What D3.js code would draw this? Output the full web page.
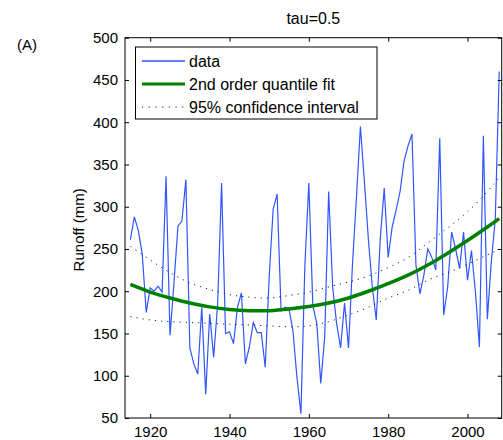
<!DOCTYPE html>
<html>
<head>
<meta charset="utf-8">
<script src="https://cdn.jsdelivr.net/npm/d3@7"></script>
<style>
  html, body { margin: 0; padding: 0; background: #fff; }
  svg text { font-family: "Liberation Sans", Arial, Helvetica, sans-serif; fill: #000; }
</style>
</head>
<body>
<svg id="chart" width="503" height="440"></svg>
<script>
// ---------------- data ----------------
const years = d3.range(1915, 2009);
const runoff = [
  261, 288, 272, 244, 175, 204, 200, 206, 199, 336,   // 1915-1924
  148, 210, 277, 283, 332, 133, 114, 102, 181, 78,    // 1925-1934
  173, 122, 184, 328, 150, 152, 138, 181, 198, 114,   // 1935-1944
  134, 163, 151, 151, 110, 217, 297, 315, 177, 181,   // 1945-1954
  179, 153, 98, 55, 231, 328, 183, 162, 91, 146,      // 1955-1964
  318, 205, 162, 133, 186, 133, 232, 311, 395, 330,   // 1965-1974
  262, 205, 166, 262, 322, 240, 276, 296, 318, 354,   // 1975-1984
  372, 386, 231, 197, 219, 250, 240, 225, 381, 172,   // 1985-1994
  205, 270, 250, 227, 270, 213, 248, 199, 134, 384,   // 1995-2004
  167, 235, 285, 460                                  // 2005-2008
];

const fitYears = [1915, 1920, 1925, 1930, 1935, 1940, 1945, 1950, 1955, 1960,
                  1965, 1970, 1975, 1980, 1985, 1990, 1995, 2000, 2005, 2008];
const fitValues = [208, 199, 192, 186, 181.5, 178.5, 177, 177, 179, 182,
                   186, 192, 200, 209, 219, 231, 245, 260, 276, 286];
const ciUpper = [253, 237, 222, 210, 202, 196, 193, 192, 195, 199,
                 205, 211, 218, 228, 240, 257, 275, 294, 318, 335];
const ciLower = [170, 166, 164, 163, 162, 161, 160, 159, 158, 159,
                 164, 172, 181, 192, 201, 213, 222, 232, 243, 249];

const xTicks = [1920, 1940, 1960, 1980, 2000];
const yTicks = [50, 100, 150, 200, 250, 300, 350, 400, 450, 500];

const titleText = "tau=0.5";
const panelLabel = "(A)";
const yLabel = "Runoff (mm)";
const legendLabels = ["data", "2nd order quantile fit", "95% confidence interval"];

// ---------------- layout ----------------
const svg = d3.select("#chart");
const L = 125, R = 501.7, T = 37.7, B = 418;

const x = d3.scaleLinear().domain([1913.65, 2008.62]).range([L, R]);
const y = d3.scaleLinear().domain([50, 500]).range([B, T]);

svg.append("defs").append("clipPath").attr("id", "clip")
  .append("rect").attr("x", L).attr("y", T).attr("width", R - L).attr("height", B - T);

const plot = svg.append("g").attr("clip-path", "url(#clip)");

// data line
const dataPts = years.map((yr, i) => [yr, runoff[i]]);
plot.append("path")
  .datum(dataPts)
  .attr("fill", "none")
  .attr("stroke", "#2f55ff")
  .attr("stroke-width", 1.2)
  .attr("d", d3.line().x(d => x(d[0])).y(d => y(d[1])));

// CI lines
const smooth = d3.line().curve(d3.curveNatural).x(d => x(d[0])).y(d => y(d[1]));
[ciUpper, ciLower].forEach(arr => {
  plot.append("path")
    .datum(fitYears.map((yr, i) => [yr, arr[i]]))
    .attr("fill", "none")
    .attr("stroke", "#222")
    .attr("stroke-width", 1)
    .attr("stroke-dasharray", "1.2,5")
    .attr("d", smooth);
});

// fit line
plot.append("path")
  .datum(fitYears.map((yr, i) => [yr, fitValues[i]]))
  .attr("fill", "none")
  .attr("stroke", "#008000")
  .attr("stroke-width", 3.5)
  .attr("d", smooth);

// ---------------- axes (box with inward ticks) ----------------
const axes = svg.append("g");
const tickLen = 4;

axes.append("g").attr("transform", `translate(0,${B})`)
  .call(d3.axisBottom(x).tickValues(xTicks).tickFormat(d3.format("d")).tickSize(-tickLen).tickPadding(8))
  .call(g => { g.select(".domain").remove(); g.selectAll("text").attr("font-size", 15); });

axes.append("g").attr("transform", `translate(0,${T})`)
  .call(d3.axisTop(x).tickValues(xTicks).tickFormat("").tickSize(-tickLen))
  .call(g => g.select(".domain").remove());

axes.append("g").attr("transform", `translate(${L},0)`)
  .call(d3.axisLeft(y).tickValues(yTicks).tickSize(-tickLen).tickPadding(7))
  .call(g => { g.select(".domain").remove(); g.selectAll("text").attr("font-size", 15); });

axes.append("g").attr("transform", `translate(${R},0)`)
  .call(d3.axisRight(y).tickValues(yTicks).tickFormat("").tickSize(-tickLen))
  .call(g => g.select(".domain").remove());

axes.selectAll(".tick line").attr("stroke", "#000");

axes.append("rect")
  .attr("x", L).attr("y", T).attr("width", R - L).attr("height", B - T)
  .attr("fill", "none").attr("stroke", "#000").attr("stroke-width", 1);

// ---------------- text ----------------
svg.append("text").attr("x", (L + R) / 2).attr("y", 24)
  .attr("text-anchor", "middle").attr("font-size", 16).text(titleText);

svg.append("text").attr("x", 17).attr("y", 50)
  .attr("font-size", 15).text(panelLabel);

svg.append("text")
  .attr("transform", `translate(84,${(T + B) / 2 + 2}) rotate(-90)`)
  .attr("text-anchor", "middle").attr("font-size", 15).text(yLabel);

// ---------------- legend ----------------
const lg = svg.append("g");
lg.append("rect").attr("x", 135.5).attr("y", 47).attr("width", 241.5).attr("height", 72)
  .attr("fill", "#fff").attr("stroke", "#000").attr("stroke-width", 1);

const rows = [61, 84, 107];
const styles = [
  {stroke: "#2f55ff", w: 1.4, dash: null},
  {stroke: "#008000", w: 3, dash: null},
  {stroke: "#222", w: 1, dash: "1.2,5.5"}
];
legendLabels.forEach((lab, i) => {
  lg.append("line").attr("x1", 142).attr("x2", 185).attr("y1", rows[i]).attr("y2", rows[i])
    .attr("stroke", styles[i].stroke).attr("stroke-width", styles[i].w)
    .attr("stroke-dasharray", styles[i].dash);
  lg.append("text").attr("x", 189).attr("y", rows[i] + 5.5)
    .attr("font-size", 16).text(lab);
});
</script>
</body>
</html>
